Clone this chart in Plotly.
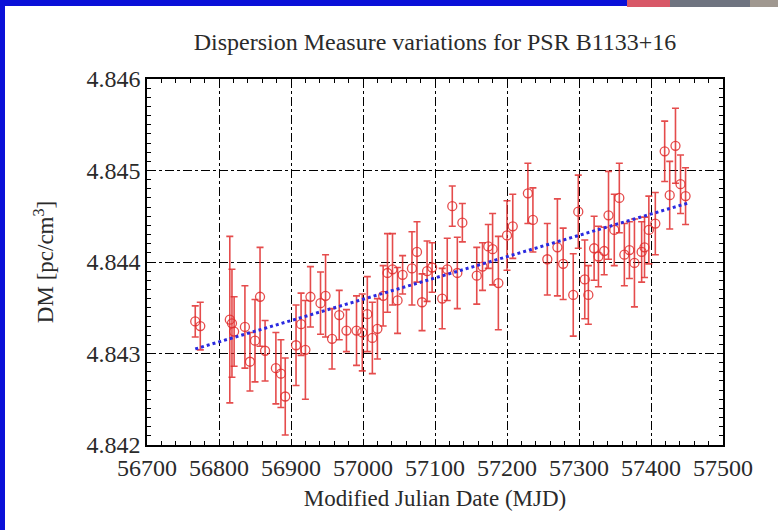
import plotly.graph_objects as go

# ---- data ----
mjd = [56767, 56774, 56815, 56818, 56821, 56836, 56843, 56850, 56857, 56864,
       56879, 56886, 56892, 56907, 56914, 56920, 56927, 56941, 56948, 56957,
       56967, 56977, 56991, 56999, 57006, 57013, 57020, 57028, 57034, 57041,
       57048, 57055, 57068, 57075, 57082, 57089, 57096, 57110, 57117, 57124,
       57131, 57138, 57158, 57166, 57174, 57180, 57188, 57200, 57208, 57229,
       57236, 57256, 57270, 57278, 57292, 57299, 57308, 57313, 57321, 57327,
       57335, 57341, 57349, 57356, 57363, 57370, 57377, 57387, 57391, 57397,
       57406, 57419, 57426, 57434, 57441, 57448]
dm = [4.84335, 4.84330, 4.84337, 4.84333, 4.84324, 4.84329, 4.84291, 4.84314, 4.84362, 4.84303,
      4.84284, 4.84278, 4.84253, 4.84309, 4.84332, 4.84304, 4.84362, 4.84355, 4.84363, 4.84316,
      4.84342, 4.84325, 4.84325, 4.84323, 4.84343, 4.84317, 4.84327, 4.84363, 4.84388, 4.84392,
      4.84358, 4.84386, 4.84393, 4.84411, 4.84356, 4.84390, 4.84394, 4.84360, 4.84392, 4.84461,
      4.84388, 4.84443, 4.84385, 4.84395, 4.84417, 4.84414, 4.84377, 4.84429, 4.84439, 4.84475,
      4.84446, 4.84403, 4.84416, 4.84398, 4.84364, 4.84455, 4.84381, 4.84364, 4.84415, 4.84406,
      4.84412, 4.84451, 4.84435, 4.84470, 4.84408, 4.84413, 4.84399, 4.84411, 4.84416, 4.84435,
      4.84442, 4.84521, 4.84473, 4.84527, 4.84485, 4.84472]
dm_err = [0.00017, 0.00026, 0.00091, 0.00059, 0.00038, 0.00045, 0.00032, 0.00045, 0.00054, 0.00033,
          0.00039, 0.00037, 0.00042, 0.00044, 0.00034, 0.00054, 0.00033, 0.00034, 0.00045, 0.00033,
          0.00027, 0.00023, 0.00038, 0.00042, 0.00041, 0.00039, 0.00033, 0.00033, 0.00043, 0.00039,
          0.00036, 0.00021, 0.00040, 0.00033, 0.00031, 0.00033, 0.00027, 0.00033, 0.00034, 0.00022,
          0.00039, 0.00021, 0.00031, 0.00026, 0.00024, 0.00039, 0.00051, 0.00038, 0.00035, 0.00033,
          0.00035, 0.00039, 0.00053, 0.00039, 0.00045, 0.00040, 0.00043, 0.00032, 0.00035, 0.00033,
          0.00026, 0.00048, 0.00039, 0.00038, 0.00034, 0.00031, 0.00048, 0.00033, 0.00033, 0.00037,
          0.00034, 0.00033, 0.00037, 0.00041, 0.00032, 0.00031]

fit_mjd = [56767, 57454]
fit_dm = [4.84305, 4.84465]

x_ticks = [56700, 56800, 56900, 57000, 57100, 57200, 57300, 57400, 57500]
y_ticks = [4.842, 4.843, 4.844, 4.845, 4.846]

FONT = "Liberation Serif"
TXT = "#2a2a2a"
red = "rgba(225,45,45,0.85)"

fig = go.Figure()
fig.add_trace(go.Scatter(
    x=mjd, y=dm, mode="markers",
    error_y=dict(type="data", array=dm_err, visible=True, color=red, thickness=1.6, width=3.5),
    marker=dict(symbol="circle-open", size=9, color=red, line=dict(width=1.3, color=red)),
    showlegend=False,
))
fig.add_trace(go.Scatter(
    x=fit_mjd, y=fit_dm, mode="lines",
    line=dict(color="#2a2ae0", width=3, dash="dot"),
    showlegend=False,
))

axis_common = dict(
    showline=True, linecolor="black", linewidth=1.5, mirror="ticks",
    ticks="inside", ticklen=6, tickcolor="black", tickwidth=1,
    showgrid=True, gridcolor="black", gridwidth=1, griddash="dashdot",
    zeroline=False,
    tickfont=dict(family=FONT, size=24, color=TXT),
)

fig.update_xaxes(
    range=[56700, 57500], tickvals=x_ticks, ticktext=[str(v) for v in x_ticks],
    minor=dict(dtick=20, ticks="inside", ticklen=4, tickcolor="black", showgrid=False),
    title=dict(text="Modified Julian Date (MJD)", font=dict(family=FONT, size=23, color=TXT), standoff=10),
    **axis_common,
)
fig.update_yaxes(
    range=[4.842, 4.846], tickvals=y_ticks, ticktext=[f"{v:.3f}" for v in y_ticks],
    minor=dict(dtick=0.0001, ticks="inside", ticklen=4, tickcolor="black", showgrid=False),
    title=dict(text="DM [pc/cm<sup>3</sup>]", font=dict(family=FONT, size=23, color=TXT), standoff=26),
    **axis_common,
)

# slide decoration (blue border strips and picture corner)
def px_x(p):
    return (p - 147) / 576.0

def px_y(p):
    return (445 - p) / 366.0

shapes = [
    dict(type="rect", xref="paper", yref="paper", x0=px_x(0), x1=px_x(5), y0=px_y(530), y1=px_y(0),
         fillcolor="#0a10d8", line=dict(width=0), layer="above"),
    dict(type="rect", xref="paper", yref="paper", x0=px_x(0), x1=px_x(627), y0=px_y(6), y1=px_y(0),
         fillcolor="#0a10d8", line=dict(width=0), layer="above"),
    dict(type="rect", xref="paper", yref="paper", x0=px_x(627), x1=px_x(670), y0=px_y(7), y1=px_y(0),
         fillcolor="#d85868", line=dict(width=0), layer="above"),
    dict(type="rect", xref="paper", yref="paper", x0=px_x(670), x1=px_x(750), y0=px_y(7), y1=px_y(0),
         fillcolor="#6f7480", line=dict(width=0), layer="above"),
    dict(type="rect", xref="paper", yref="paper", x0=px_x(750), x1=px_x(778), y0=px_y(7), y1=px_y(0),
         fillcolor="#a09890", line=dict(width=0), layer="above"),
]

fig.update_layout(
    width=778, height=530,
    margin=dict(l=147, r=55, t=79, b=85),
    paper_bgcolor="white", plot_bgcolor="white",
    title=dict(text="Dispersion Measure variations for PSR B1133+16",
               font=dict(family=FONT, size=24, color=TXT),
               x=(147 + 288) / 778, xanchor="center", y=1 - 42 / 530, yanchor="middle"),
    shapes=shapes,
)

fig.write_html("out.html")
